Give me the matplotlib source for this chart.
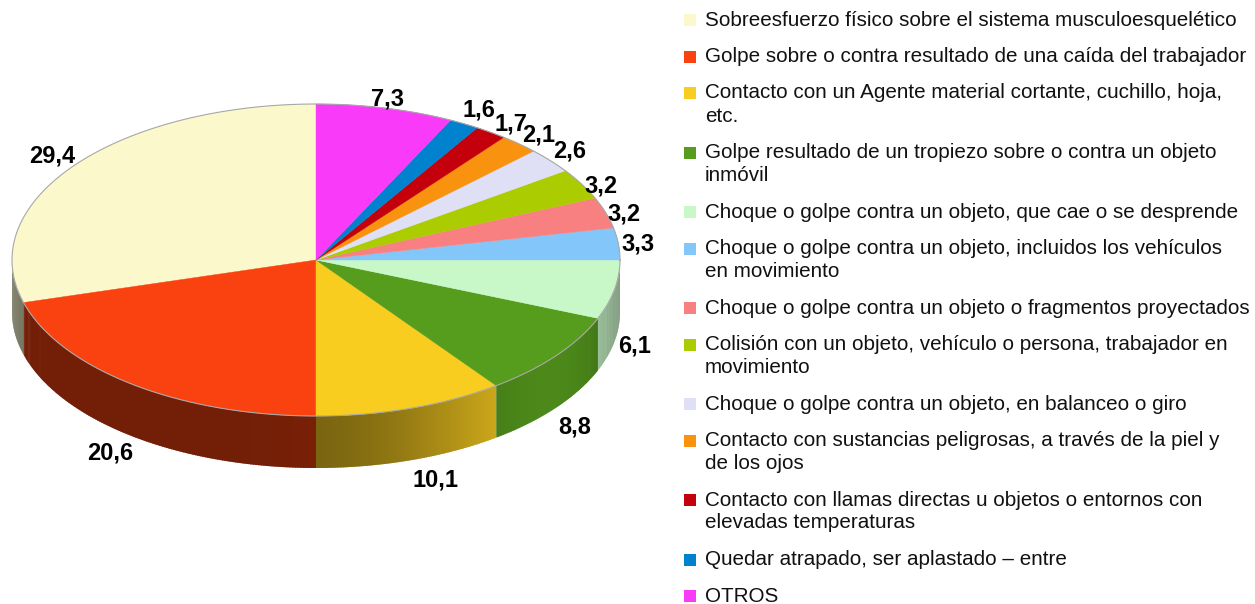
import numpy as np
import matplotlib
matplotlib.use("Agg")
import matplotlib.pyplot as plt
from matplotlib.patches import Polygon, Rectangle
from matplotlib.colors import to_rgb

categories = [
    "Sobreesfuerzo físico sobre el sistema musculoesquelético",
    "Golpe sobre o contra resultado de una caída del trabajador",
    "Contacto con un Agente material cortante, cuchillo, hoja,\netc.",
    "Golpe resultado de un tropiezo sobre o contra un objeto\ninmóvil",
    "Choque o golpe contra un objeto, que cae o se desprende",
    "Choque o golpe contra un objeto, incluidos los vehículos\nen movimiento",
    "Choque o golpe contra un objeto o fragmentos proyectados",
    "Colisión con un objeto, vehículo o persona, trabajador en\nmovimiento",
    "Choque o golpe contra un objeto, en balanceo o giro",
    "Contacto con sustancias peligrosas, a través de la piel y\nde los ojos",
    "Contacto con llamas directas u objetos o entornos con\nelevadas temperaturas",
    "Quedar atrapado, ser aplastado – entre",
    "OTROS",
]
values = [29.4, 20.6, 10.1, 8.8, 6.1, 3.3, 3.2, 3.2, 2.6, 2.1, 1.7, 1.6, 7.3]
value_labels = ["29,4", "20,6", "10,1", "8,8", "6,1", "3,3", "3,2", "3,2",
                "2,6", "2,1", "1,7", "1,6", "7,3"]
colors = ["#fbf9cb", "#f9420f", "#f9cd20", "#569c1d", "#c9f8c8", "#83c7fa",
          "#f98080", "#abcc00", "#dfdff6", "#f9930f", "#c3000b", "#0082cf",
          "#f93af9"]
# small pixel nudges for the value labels (layout only)
label_nudge = [(-2, -2), (-8, 7), (17, 8), (-1, 12), (-4, 2), (-5, 1),
               (-5, 5), (-2, 8), (1, -2), (3, 0), (6, 2), (3, -3), (-3, 3)]

W, H = 1255, 604
fig = plt.figure(figsize=(W / 100, H / 100), dpi=100)
ax = fig.add_axes([0, 0, 1, 1])
ax.set_xlim(0, W)
ax.set_ylim(H, 0)
ax.axis("off")

cx, cy, rx, ry, depth = 316, 260, 304, 156, 52

def pt(t, r=1.0, dz=0.0):
    a = np.deg2rad(t)
    return cx + rx * r * np.cos(a), cy - ry * r * np.sin(a) + dz

def shade(t):
    c = max(0.0, np.cos(np.deg2rad(t - 320)))
    return 0.46 + 0.42 * c ** 6

total = sum(values)
starts = []
a = 90.0
for v in values:
    starts.append(a)
    a += v / total * 360.0

# side walls (front half: 180..360 deg)
for v, s, col in zip(values, starts, colors):
    e = s + v / total * 360.0
    lo, hi = max(s, 180.0), min(e, 360.0)
    if hi <= lo:
        continue
    base = np.array(to_rgb(col))
    ts = np.linspace(lo, hi, max(2, int((hi - lo) / 0.5) + 1))
    for t0, t1 in zip(ts[:-1], ts[1:]):
        f = shade(0.5 * (t0 + t1))
        c = np.clip(base * f, 0, 1)
        t1e = min(t1 + 0.3, hi)
        p0, p1 = pt(t0), pt(t1e)
        poly = [p0, p1, (p1[0], p1[1] + depth), (p0[0], p0[1] + depth)]
        ax.add_patch(Polygon(poly, closed=True, facecolor=c, edgecolor="none",
                             zorder=1))

# top face wedges
for v, s, col in zip(values, starts, colors):
    e = s + v / total * 360.0
    ts = np.linspace(s, e, max(3, int((e - s) / 0.5) + 1))
    poly = [(cx, cy)] + [pt(t) for t in ts]
    ax.add_patch(Polygon(poly, closed=True, facecolor=col, edgecolor=col,
                         linewidth=0.3, zorder=2))

# rim outline
tt = np.linspace(0, 360, 721)
ax.plot([pt(t)[0] for t in tt], [pt(t)[1] for t in tt], color="#a8a8a8",
        lw=0.8, zorder=3)

# value labels
for v, s, lab, (nx, ny) in zip(values, starts, value_labels, label_nudge):
    m = s + v / total * 180.0
    sn = np.sin(np.deg2rad(m))
    x, y = pt(m, 1.08, depth if sn < 0 else 0.0)
    ax.text(x + nx, y + ny, lab, ha="center", va="center", fontsize=17,
            fontweight="bold", family="Liberation Sans", zorder=5)

# legend
y = 20.0
for lab, col in zip(categories, colors):
    ax.add_patch(Rectangle((684, y - 6), 12, 12, facecolor=col,
                           edgecolor="none", zorder=5))
    lines = lab.split("\n")
    for i, ln in enumerate(lines):
        ax.text(705, y + 23 * i, ln, ha="left", va="center", fontsize=14.85,
                family="Liberation Sans", color="#111111", zorder=5)
    y += 36.5 + 23 * (len(lines) - 1)

fig.savefig("out.png", dpi=100, facecolor="white")
